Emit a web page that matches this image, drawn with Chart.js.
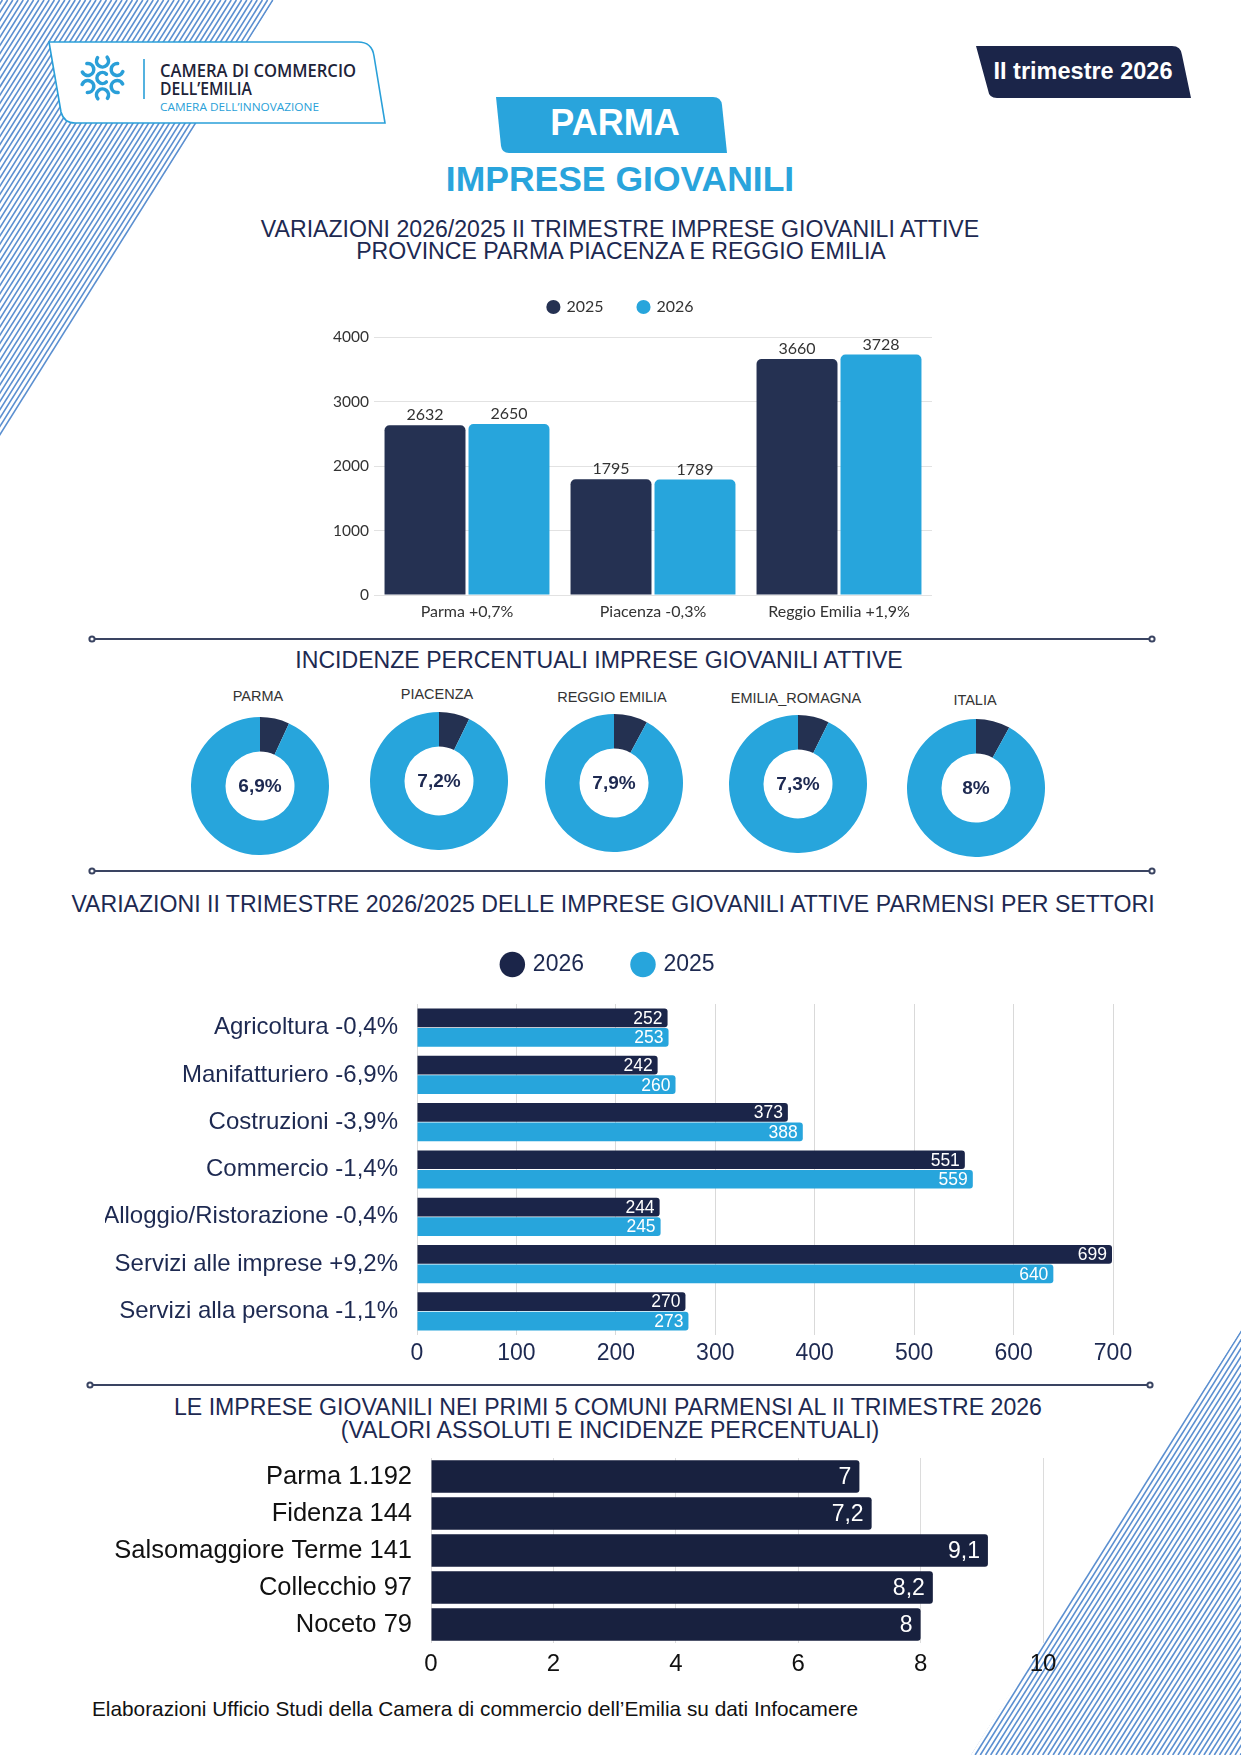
<!DOCTYPE html>
<html lang="it"><head><meta charset="utf-8"><title>Parma - Imprese giovanili</title>
<script src="https://cdn.jsdelivr.net/npm/chart.js@4.4.1/dist/chart.umd.min.js"></script>
<style>
html,body{margin:0;padding:0;background:#fff}
body{width:1241px;height:1755px;position:relative;overflow:hidden;font-family:"Liberation Sans",Arial,Helvetica,sans-serif}
svg,canvas,.t{position:absolute}
.t{white-space:nowrap;line-height:1;transform:translate(-50%,-50%);color:#1d2951}
.h2{font-size:23.1px}
.dl{font-size:14.5px;color:#333}
</style></head><body>
<svg id="deco" width="1241" height="1755" style="left:0;top:0">
  <defs>
    <clipPath id="stripeClip">
      <polygon points="0,0 274,0 0,438"/>
      <polygon points="1241,1330 1241,1755 971,1755"/>
    </clipPath>
  </defs>
  <g id="stripes" clip-path="url(#stripeClip)" stroke="#5b8fd0" stroke-width="1.6"></g>
  <path d="M49,42 L358,42 Q372,42 374,56 L385,123 L75,123 Q64,123 61,112 Z" fill="#fff" stroke="#2aa0d9" stroke-width="1.6"/>
  <g id="logoIcon" fill="none" stroke="#2a9fd8" stroke-width="3.6" stroke-linecap="round"></g>
  <line x1="144" y1="59" x2="144" y2="99" stroke="#2a9fd8" stroke-width="1.6"/>
  <text x="160" y="77" font-family="Open Sans, Noto Sans, sans-serif" font-weight="600" font-size="18" fill="#1d2339" textLength="196" lengthAdjust="spacingAndGlyphs">CAMERA DI COMMERCIO</text>
  <text x="160" y="95" font-family="Open Sans, Noto Sans, sans-serif" font-weight="600" font-size="18" fill="#1d2339" textLength="92" lengthAdjust="spacingAndGlyphs">DELL’EMILIA</text>
  <text x="160" y="111" font-family="Open Sans, Noto Sans, sans-serif" font-weight="400" font-size="11.5" fill="#2a9fd8" textLength="159" lengthAdjust="spacingAndGlyphs">CAMERA DELL’INNOVAZIONE</text>
  <path d="M976,46 L1172,46 Q1181,46 1182,55 L1191,98 L997,98 Q989,98 988,90 Z" fill="#1b2549"/>
  <path d="M496,97 L713,97 Q721,97 722,105 L727,153 L509,153 Q502,153 501,146 Z" fill="#29a4dc"/>
  <g stroke="#3a4462" stroke-width="2" fill="#fff">
    <line x1="94" y1="639" x2="1150" y2="639"/><circle cx="92" cy="639" r="2.6"/><circle cx="1152" cy="639" r="2.6"/>
    <line x1="94" y1="871" x2="1150" y2="871"/><circle cx="92" cy="871" r="2.6"/><circle cx="1152" cy="871" r="2.6"/>
    <line x1="92" y1="1385" x2="1148" y2="1385"/><circle cx="90" cy="1385" r="2.6"/><circle cx="1150" cy="1385" r="2.6"/>
  </g>
</svg>

<div class="t" style="left:1083px;top:72px;color:#fff;font-weight:bold;font-size:23.5px">II trimestre 2026</div>
<div class="t" style="left:615px;top:123px;color:#fff;font-weight:bold;font-size:36px">PARMA</div>
<div class="t" style="left:620px;top:180px;color:#29a4dc;font-weight:bold;font-size:35.5px">IMPRESE GIOVANILI</div>
<div class="t h2" style="left:620px;top:230px">VARIAZIONI 2026/2025 II TRIMESTRE IMPRESE GIOVANILI ATTIVE</div>
<div class="t h2" style="left:621px;top:252px">PROVINCE PARMA PIACENZA E REGGIO EMILIA</div>
<div class="t h2" style="left:599px;top:661px">INCIDENZE PERCENTUALI IMPRESE GIOVANILI ATTIVE</div>
<div class="t h2" style="left:613px;top:905px">VARIAZIONI II TRIMESTRE 2026/2025 DELLE IMPRESE GIOVANILI ATTIVE PARMENSI PER SETTORI</div>
<div class="t h2" style="left:608px;top:1408px">LE IMPRESE GIOVANILI NEI PRIMI 5 COMUNI PARMENSI AL II TRIMESTRE 2026</div>
<div class="t h2" style="left:610px;top:1431px">(VALORI ASSOLUTI E INCIDENZE PERCENTUALI)</div>
<div id="donutLabels"></div>
<div class="t" style="left:92px;top:1709px;transform:translate(0,-50%);color:#111;font-size:20.8px">Elaborazioni Ufficio Studi della Camera di commercio dell’Emilia su dati Infocamere</div>

<canvas id="c1" width="650" height="365" style="left:300px;top:260px"></canvas>
<canvas id="d0" width="138" height="138" style="left:191px;top:717px"></canvas>
<canvas id="d1" width="138" height="138" style="left:370px;top:712px"></canvas>
<canvas id="d2" width="138" height="138" style="left:545px;top:714px"></canvas>
<canvas id="d3" width="138" height="138" style="left:729px;top:715px"></canvas>
<canvas id="d4" width="138" height="138" style="left:907px;top:719px"></canvas>
<canvas id="c3" width="1100" height="473" style="left:40px;top:900px"></canvas>
<canvas id="c4" width="1033" height="233" style="left:40px;top:1450px"></canvas>

<script>
// ---------- DATA ----------
const provLabels = ['Parma +0,7%', 'Piacenza -0,3%', 'Reggio Emilia +1,9%'];
const prov2025 = [2632, 1795, 3660];
const prov2026 = [2650, 1789, 3728];

const donutNames = ['PARMA', 'PIACENZA', 'REGGIO EMILIA', 'EMILIA_ROMAGNA', 'ITALIA'];
const donutValues = [6.9, 7.2, 7.9, 7.3, 8];

const sectors = ['Agricoltura -0,4%', 'Manifatturiero -6,9%', 'Costruzioni -3,9%', 'Commercio -1,4%',
                 'Alloggio/Ristorazione -0,4%', 'Servizi alle imprese +9,2%', 'Servizi alla persona -1,1%'];
const sect2026 = [252, 242, 373, 551, 244, 699, 270];
const sect2025 = [253, 260, 388, 559, 245, 640, 273];

const comuni = ['Parma 1.192', 'Fidenza 144', 'Salsomaggiore Terme 141', 'Collecchio 97', 'Noceto 79'];
const comuniIncidenza = [7, 7.2, 9.1, 8.2, 8];

// ---------- STYLE ----------
const F = "'Liberation Sans', Arial, sans-serif";
const NAVY1 = '#253152', NAVY = '#1b2549', NAVY4 = '#18213f', BLUE = '#27a5dc';
const itNum = v => String(v).replace('.', ',');

// ---------- DECORATION ----------
(function () {
  let s = '';
  const k = 0.628;
  for (let x = -60; x <= 2420; x += 5.2) {
    s += '<line x1="' + x.toFixed(1) + '" y1="0" x2="' + (x - k * 1755).toFixed(1) + '" y2="1755"/>';
  }
  document.getElementById('stripes').innerHTML = s;
  function arc(cx, cy, r, a0, a1) {
    const x0 = cx + r * Math.cos(a0), y0 = cy + r * Math.sin(a0);
    const x1 = cx + r * Math.cos(a1), y1 = cy + r * Math.sin(a1);
    return '<path d="M' + x0.toFixed(2) + ',' + y0.toFixed(2) + ' A' + r + ',' + r + ' 0 ' + ((a1 - a0) > Math.PI ? 1 : 0) + ' 1 ' + x1.toFixed(2) + ',' + y1.toFixed(2) + '"/>';
  }
  const cx = 102.5, cy = 78;
  let p = '';
  for (let i = 0; i < 6; i++) {
    const a = i * Math.PI / 3 - Math.PI / 2;
    p += arc(cx + 17 * Math.cos(a), cy + 17 * Math.sin(a), 6, a + 0.9, a + 0.9 + 4.4);
  }
  p += arc(cx, cy, 5.5, 0.8, 5.5);
  document.getElementById('logoIcon').innerHTML = p;
  const pos = [[258, 696], [437, 694], [612, 697], [796, 698], [975, 700]];
  let h = '';
  donutNames.forEach((n, i) => { h += '<div class="t dl" style="left:' + pos[i][0] + 'px;top:' + pos[i][1] + 'px">' + n + '</div>'; });
  document.getElementById('donutLabels').innerHTML = h;
})();

// ---------- PLUGINS ----------
function legendHeight(hgt) {
  return {
    id: 'legendHeight',
    beforeInit(chart) {
      const lg = chart.legend;
      if (!lg) return;
      const fit = lg.fit;
      lg.fit = function () { fit.call(this); this.height = hgt; };
    }
  };
}
const valueLabels = {
  id: 'valueLabels',
  afterDatasetsDraw(chart, args, o) {
    if (!o || !o.mode) return;
    const ctx = chart.ctx;
    chart.data.datasets.forEach((ds, di) => {
      const meta = chart.getDatasetMeta(di);
      meta.data.forEach((el, i) => {
        const txt = itNum(ds.data[i]);
        ctx.save();
        ctx.font = o.font;
        ctx.fillStyle = o.color;
        if (o.mode === 'top') {
          ctx.textAlign = 'center'; ctx.textBaseline = 'alphabetic';
          ctx.fillText(txt, el.x, el.y - 5);
        } else {
          ctx.textAlign = 'right'; ctx.textBaseline = 'middle';
          ctx.fillText(txt, el.x - o.offset, el.y + 1);
        }
        ctx.restore();
      });
    });
  }
};
const centerText = {
  id: 'centerText',
  afterDraw(chart, args, o) {
    const m = chart.getDatasetMeta(0).data[0];
    if (!m) return;
    const ctx = chart.ctx;
    ctx.save();
    ctx.font = "bold 19px 'Liberation Sans', Arial, sans-serif";
    ctx.fillStyle = '#1d2951';
    ctx.textAlign = 'center'; ctx.textBaseline = 'middle';
    ctx.fillText(o.text, m.x, m.y + 1);
    ctx.restore();
  }
};
const fixY = w => s => { s.width = w; s.paddingTop = 0; s.paddingBottom = 0; };

// ---------- CHART 1 ----------
new Chart(document.getElementById('c1'), {
  type: 'bar',
  data: {
    labels: provLabels,
    datasets: [
      { label: '2025', data: prov2025, backgroundColor: NAVY1, borderRadius: 5, categoryPercentage: 0.903, barPercentage: 0.964 },
      { label: '2026', data: prov2026, backgroundColor: BLUE, borderRadius: 5, categoryPercentage: 0.903, barPercentage: 0.964 }
    ]
  },
  options: {
    responsive: false, animation: false,
    layout: { padding: { left: 10, right: 18, top: 4, bottom: 0 } },
    scales: {
      x: { grid: { display: false, drawTicks: false }, border: { display: false },
           ticks: { font: { family: 'Lato', size: 16 }, color: '#333', padding: 7 },
           afterFit: s => { s.height = 30; } },
      y: { min: 0, max: 4000, grid: { color: '#e2e2e2', drawTicks: false }, border: { display: false },
           ticks: { stepSize: 1000, font: { family: 'Lato', size: 15.5 }, color: '#333', padding: 5, callback: v => String(v) },
           afterFit: fixY(64) }
    },
    plugins: {
      legend: { labels: { usePointStyle: true, pointStyle: 'circle', boxWidth: 10, boxHeight: 10,
                          font: { family: 'Lato', size: 16 }, color: '#333', padding: 35 } },
      tooltip: { enabled: false },
      valueLabels: { mode: 'top', font: "16px Lato", color: '#333' }
    }
  },
  plugins: [legendHeight(73), valueLabels]
});

// ---------- DONUTS ----------
donutValues.forEach((v, i) => {
  new Chart(document.getElementById('d' + i), {
    type: 'doughnut',
    data: { labels: [donutNames[i], ''], datasets: [{ data: [v, 100 - v], backgroundColor: ['#243151', BLUE], borderWidth: 0 }] },
    options: {
      responsive: false, animation: false, cutout: '50%',
      layout: { padding: 0 },
      plugins: { legend: { display: false }, tooltip: { enabled: false }, centerText: { text: itNum(v) + '%' } }
    },
    plugins: [centerText]
  });
});

// ---------- CHART 3 ----------
new Chart(document.getElementById('c3'), {
  type: 'bar',
  data: {
    labels: sectors,
    datasets: [
      { label: '2026', data: sect2026, backgroundColor: NAVY, borderRadius: 3, categoryPercentage: 0.825, barPercentage: 0.96 },
      { label: '2025', data: sect2025, backgroundColor: BLUE, borderRadius: 3, categoryPercentage: 0.825, barPercentage: 0.96 }
    ]
  },
  options: {
    indexAxis: 'y', responsive: false, animation: false,
    layout: { padding: { left: 65, right: 27, top: 3, bottom: 0 } },
    scales: {
      x: { min: 0, max: 700, grid: { color: '#d9d9d9', drawTicks: false }, border: { display: false },
           ticks: { stepSize: 100, font: { family: F, size: 23 }, color: '#1d2951', padding: 5 },
           afterFit: s => { s.height = 38; } },
      y: { grid: { display: false, drawTicks: false }, border: { display: false },
           ticks: { autoSkip: false, font: { family: F, size: 24 }, color: '#1d2951', padding: 19 },
           afterFit: fixY(312) }
    },
    plugins: {
      legend: { labels: { usePointStyle: true, pointStyle: 'circle', boxWidth: 18, boxHeight: 18,
                          font: { family: F, size: 23 }, color: '#1d2951', padding: 50 } },
      tooltip: { enabled: false },
      valueLabels: { mode: 'end', offset: 5, font: "17.5px 'Liberation Sans', Arial, sans-serif", color: '#fff' }
    }
  },
  plugins: [legendHeight(101), valueLabels]
});

// ---------- CHART 4 ----------
new Chart(document.getElementById('c4'), {
  type: 'bar',
  data: {
    labels: comuni,
    datasets: [{ label: 'Incidenza %', data: comuniIncidenza, backgroundColor: NAVY4, borderRadius: 3, categoryPercentage: 0.876, barPercentage: 1 }]
  },
  options: {
    indexAxis: 'y', responsive: false, animation: false,
    layout: { padding: { left: 0, right: 30, top: 8, bottom: 0 } },
    scales: {
      x: { min: 0, max: 10, grid: { color: '#dcdcdc', drawTicks: false }, border: { display: false },
           ticks: { stepSize: 2, font: { family: F, size: 24 }, color: '#111', padding: 7 },
           afterFit: s => { s.height = 40; } },
      y: { grid: { display: false, drawTicks: false }, border: { display: false },
           ticks: { autoSkip: false, font: { family: F, size: 25.5 }, color: '#111', padding: 19 },
           afterFit: fixY(391) }
    },
    plugins: {
      legend: { display: false },
      tooltip: { enabled: false },
      valueLabels: { mode: 'end', offset: 8, font: "23px 'Liberation Sans', Arial, sans-serif", color: '#fff' }
    }
  },
  plugins: [valueLabels]
});
</script>
</body></html>
